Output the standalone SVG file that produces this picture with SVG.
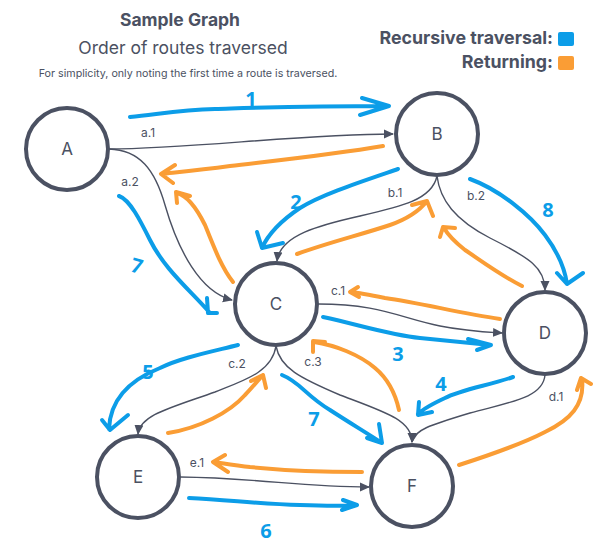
<svg xmlns="http://www.w3.org/2000/svg" width="612" height="559" viewBox="0 0 612 559">
<style>
.node circle{fill:#fff;stroke:#4b5162;stroke-width:4}
.node text{font-family:Inter,"Liberation Sans",sans-serif;font-size:17px;fill:#4b5162;text-anchor:middle}
.edge{fill:none;stroke:#4b5162;stroke-width:1.4;marker-end:url(#ah)}
.lbl{font-family:Inter,"Liberation Sans",sans-serif;font-size:12px;fill:#4b5162;text-anchor:middle}
.bl{fill:none;stroke:#0c9de8;stroke-width:4;stroke-linecap:round;stroke-linejoin:round}
.or{fill:none;stroke:#fa9d35;stroke-width:4;stroke-linecap:round;stroke-linejoin:round}
.num{font-family:"Noto Sans","Liberation Sans",sans-serif;font-size:20px;fill:#0c9de8;text-anchor:middle;font-weight:bold}
.t{font-family:Inter,"Liberation Sans",sans-serif;fill:#4b5162}
</style>
<defs>
<marker id="ah" markerUnits="userSpaceOnUse" markerWidth="10" markerHeight="10" viewBox="0 0 10 10" refX="9" refY="5" orient="auto">
<path d="M0,0.5 L10,5 L0,9.5 Z" fill="#4b5162"/>
</marker>
</defs>
<rect width="612" height="559" fill="#fff"/>
<g id="titles">
<text class="t" x="180" y="26" font-size="17.5" font-weight="bold" text-anchor="middle">Sample Graph</text>
<text class="t" x="183" y="54" font-size="17.5" text-anchor="middle">Order of routes traversed</text>
<text class="t" x="188" y="77" font-size="10.7" text-anchor="middle">For simplicity, only noting the first time a route is traversed.</text>
</g>
<g id="legend">
<text class="t" x="553" y="44" font-size="17.8" font-weight="bold" text-anchor="end">Recursive traversal:</text>
<text class="t" x="553" y="68" font-size="17.8" font-weight="bold" text-anchor="end">Returning:</text>
<rect x="558" y="32" width="16" height="14" rx="2" fill="#0c9de8"/>
<rect x="558" y="56" width="16" height="14" rx="2" fill="#fa9d35"/>
</g>
<g id="connectors">
<path class="edge" d="M109,149 C190,149 300,134 393,134"/>
<path class="edge" d="M109,149 C140,150 155,170 165,205 C178,250 200,292 232,300"/>
<path class="edge" d="M437,176 C432,200 400,207 360,216 C320,225 280,235 277,261"/>
<path class="edge" d="M437,176 C440,200 455,220 490,238 C530,258 545,268 545,290"/>
<path class="edge" d="M318,304 C380,304 400,318 440,326 C465,331 485,332 502,333"/>
<path class="edge" d="M276,346 C272,372 245,380 215,392 C170,408 140,415 138,434"/>
<path class="edge" d="M276,346 C280,368 300,378 340,395 C385,412 412,420 412,442"/>
<path class="edge" d="M545,375 C543,398 510,402 470,413 C430,425 414,430 412,442"/>
<path class="edge" d="M180,477 C260,478 300,487 369,487"/>
<text class="lbl" x="148" y="137">a.1</text>
<text class="lbl" x="130" y="186">a.2</text>
<text class="lbl" x="395" y="197">b.1</text>
<text class="lbl" x="476" y="200">b.2</text>
<text class="lbl" x="338" y="295">c.1</text>
<text class="lbl" x="237" y="368">c.2</text>
<text class="lbl" x="313" y="366">c.3</text>
<text class="lbl" x="556" y="401">d.1</text>
<text class="lbl" x="197" y="467">e.1</text>
</g>
<g id="recursive">
<path class="bl" d="M130,117 C160,114 180,110 215,109 C250,108 300,106 389,106 M362,98 L389,106 L360,115"/>
<path class="bl" d="M398,169 C360,182 320,195 300,208 C285,218 270,230 262,248 M257,232 L262,248 L283,243"/>
<path class="bl" d="M323,317 C360,325 390,335 420,338 C450,341 470,343 491,345 M468,339 L491,345 L477,350"/>
<path class="bl" d="M513,377 C490,385 460,390 445,398 C430,405 422,410 418,414 M419,402 L418,415 L432,412"/>
<path class="bl" d="M238,345 C210,352 180,358 160,368 C130,380 110,400 109,429 M102,420 L110,430 L128,415"/>
<path class="bl" d="M189,498 C230,500 260,504 300,505 C330,506 345,506 357,505 M343,500 L357,505 L342,510"/>
<path class="bl" d="M282,375 C300,382 305,395 330,410 C350,423 370,435 382,443 M379,424 L382,443 L367,438"/>
<path class="bl" d="M119,196 C130,200 140,220 150,240 C165,270 190,290 210,313 M207,298 L208,313 L217,313"/>
<path class="bl" d="M470,179 C500,190 530,215 545,235 C560,255 565,270 567,284 M557,273 L567,284 L583,273"/>
<text class="num" x="251" y="106">1</text>
<text class="num" x="296" y="209">2</text>
<text class="num" x="398" y="361">3</text>
<text class="num" x="441" y="391">4</text>
<text class="num" x="148" y="379" font-size="22">5</text>
<text class="num" x="266" y="538">6</text>
<text class="num" x="314" y="426">7</text>
<text class="num" x="137" y="273" transform="rotate(15 137 265)">7</text>
<text class="num" x="548" y="217">8</text>
</g>
<g id="returning">
<path class="or" d="M383,146 C330,155 280,160 230,166 C200,170 180,172 162,174 M175,165 L161,174 L173,183"/>
<path class="or" d="M233,282 C222,268 215,250 205,225 C195,205 185,195 177,193 M177,203 L176,192 L190,196"/>
<path class="or" d="M297,254 C330,242 360,235 390,225 C410,218 420,210 427,201 M412,205 L427,201 L433,216"/>
<path class="or" d="M522,286 C500,275 480,260 465,250 C455,242 448,235 444,228 M440,237 L443,227 L455,228"/>
<path class="or" d="M500,319 C460,313 420,303 385,298 C370,295 360,293 351,292 M358,287 L350,292 L359,297"/>
<path class="or" d="M399,410 C395,392 387,378 375,368 C360,355 335,345 314,342 M313,352 L313,341 L325,342"/>
<path class="or" d="M168,433 C200,428 230,412 245,395 C252,388 258,380 263,375 M251,381 L263,375 L266,388"/>
<path class="or" d="M362,472 C320,472 280,470 250,467 C235,465 225,464 214,462 M225,455 L213,462 L228,472"/>
<path class="or" d="M459,465 C490,455 520,445 545,432 C570,420 585,405 582,379 M577,390 L581,378 L591,384"/>
</g>
<g id="A" class="node"><circle cx="67" cy="149" r="41"/><text x="67" y="155">A</text></g>
<g id="B" class="node"><circle cx="437" cy="134" r="41"/><text x="437" y="140">B</text></g>
<g id="C" class="node"><circle cx="276" cy="304" r="41"/><text x="276" y="310">C</text></g>
<g id="D" class="node"><circle cx="545" cy="333" r="41"/><text x="545" y="339">D</text></g>
<g id="E" class="node"><circle cx="138" cy="477" r="41"/><text x="138" y="483">E</text></g>
<g id="F" class="node"><circle cx="412" cy="486" r="41"/><text x="412" y="492">F</text></g>
</svg>
